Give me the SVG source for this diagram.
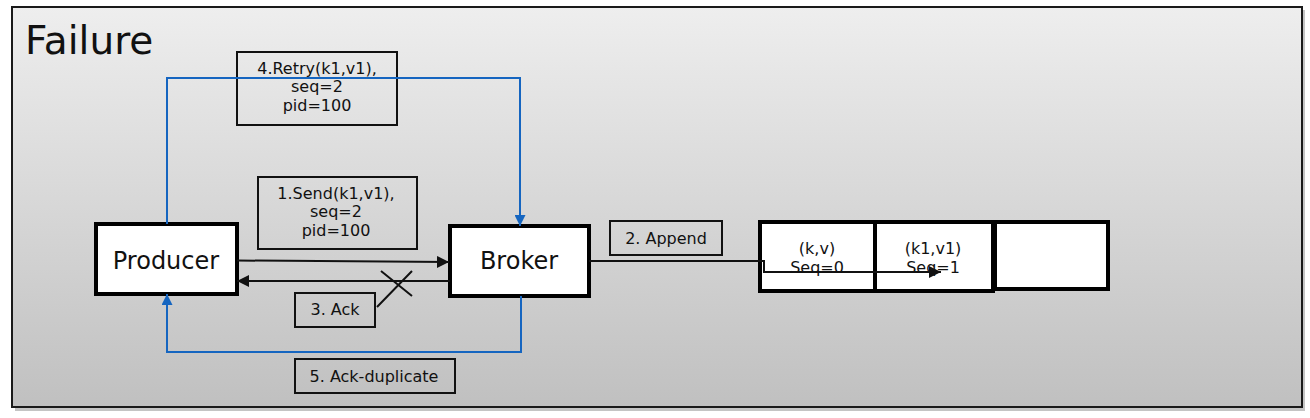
<svg xmlns="http://www.w3.org/2000/svg" width="1310" height="418" viewBox="0 0 1310 418">
<style>
text{font-family:"DejaVu Sans","Liberation Sans",sans-serif;fill:#111}
.big{font-size:24px}
.lbl{font-size:16px}
.cell{font-size:16px}
.node{fill:#fff;stroke:#000;stroke-width:4}
.lb{fill:none;stroke:#111;stroke-width:2}
.k{fill:none;stroke:#111;stroke-width:2}
.b{fill:none;stroke:#1565c0;stroke-width:2}
</style>
<defs>
<linearGradient id="bg" x1="0" y1="0" x2="0" y2="1">
<stop offset="0" stop-color="#eeeeee"/>
<stop offset="1" stop-color="#c0c0c0"/>
</linearGradient>
<marker id="ak" viewBox="0 0 12 12" refX="12" refY="6" markerWidth="12" markerHeight="12" markerUnits="userSpaceOnUse" orient="auto">
<path d="M0,0 L12,6 L0,12 z" fill="#111"/>
</marker>
<marker id="ab" viewBox="0 0 10 10" refX="10" refY="5" markerWidth="11" markerHeight="11" markerUnits="userSpaceOnUse" orient="auto">
<path d="M0,0 L10,5 L0,10 z" fill="#1565c0"/>
</marker>
</defs>
<rect x="15" y="10" width="1290" height="401" fill="#555" opacity="0.35"/>
<rect x="12" y="7" width="1290" height="400" fill="url(#bg)" stroke="#1a1a1a" stroke-width="2"/>
<text x="25" y="54" style="font-size:39px">Failure</text>

<g id="producer">
<rect class="node" x="96" y="224" width="141" height="70"/>
<text class="big" x="166" y="269" text-anchor="middle">Producer</text>
</g>
<g id="broker">
<rect class="node" x="450" y="226" width="139" height="70"/>
<text class="big" x="519" y="269" text-anchor="middle">Broker</text>
</g>
<g id="log">
<g id="cell0">
<rect class="node" x="760" y="222" width="115" height="69"/>
<text class="cell" x="817" y="254" text-anchor="middle">(k,v)</text>
<text class="cell" x="817" y="273" text-anchor="middle">Seq=0</text>
</g>
<g id="cell1">
<rect class="node" x="875" y="222" width="118" height="69"/>
<text class="cell" x="933" y="254" text-anchor="middle">(k1,v1)</text>
<text class="cell" x="933" y="273" text-anchor="middle">Seq=1</text>
</g>
<g id="cell2">
<rect class="node" x="995" y="222" width="113" height="67"/>
</g>
</g>

<g id="label-retry">
<rect class="lb" x="237" y="52" width="160" height="73"/>
<text class="lbl" x="317" y="74" text-anchor="middle">4.Retry(k1,v1),</text>
<text class="lbl" x="317" y="92" text-anchor="middle">seq=2</text>
<text class="lbl" x="317" y="111" text-anchor="middle">pid=100</text>
</g>
<g id="label-send">
<rect class="lb" x="258" y="177" width="159" height="72"/>
<text class="lbl" x="336" y="199" text-anchor="middle">1.Send(k1,v1),</text>
<text class="lbl" x="336" y="217" text-anchor="middle">seq=2</text>
<text class="lbl" x="336" y="236" text-anchor="middle">pid=100</text>
</g>
<g id="label-ack">
<rect class="lb" x="295" y="293" width="80" height="34"/>
<text class="lbl" x="335" y="315" text-anchor="middle">3. Ack</text>
</g>
<g id="label-ackdup">
<rect class="lb" x="295" y="359" width="160" height="34"/>
<text class="lbl" x="374" y="382" text-anchor="middle">5. Ack-duplicate</text>
</g>
<g id="label-append">
<rect class="lb" x="610" y="221" width="112" height="34"/>
<text class="lbl" x="666" y="244" text-anchor="middle">2. Append</text>
</g>

<g id="connectors">
<path class="k" d="M237,260.5 L449,262" marker-end="url(#ak)"/>
<path class="k" d="M450,281 L237,281" marker-end="url(#ak)"/>
<path class="k" d="M381,271 L412,296 M412,271 L377,307"/>
<path class="k" d="M589,261 H764 V272 H941" marker-end="url(#ak)"/>
<path class="b" d="M167,224 V78 H520 V226" marker-end="url(#ab)"/>
<path class="b" d="M521,296 V352 H167 V294" marker-end="url(#ab)"/>
</g>
</svg>
